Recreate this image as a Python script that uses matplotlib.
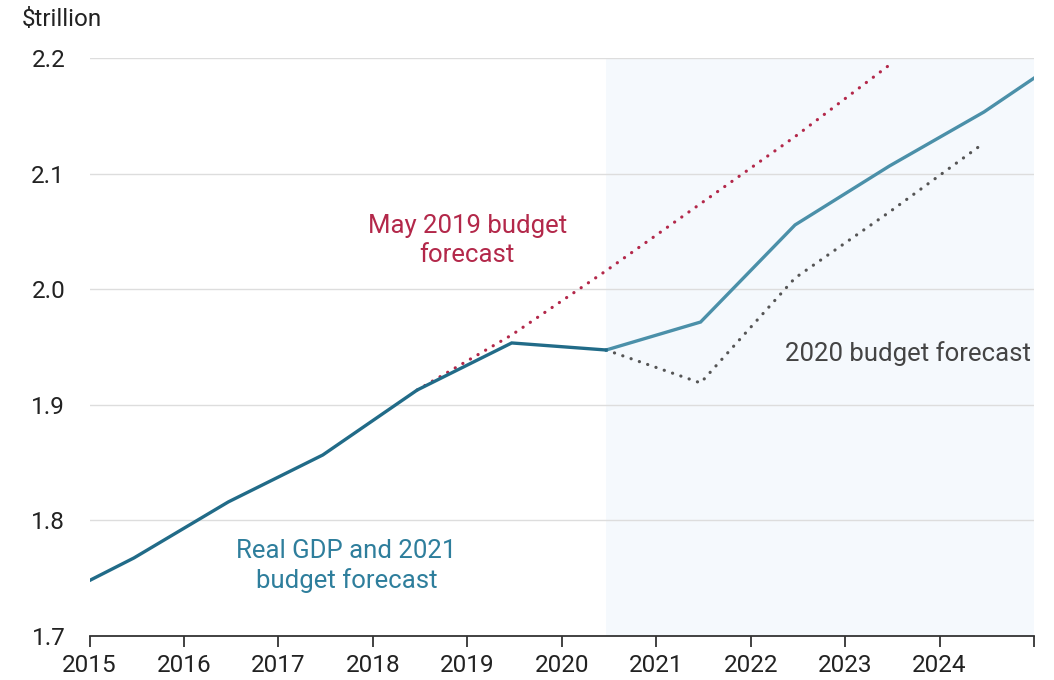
import matplotlib
matplotlib.use("Agg")
import matplotlib.pyplot as plt

plt.rcParams['font.family'] = ['Roboto', 'DejaVu Sans']

# Fiscal-year data (plotted mid-year)
hist_x = [2014.47, 2015.47, 2016.47, 2017.47, 2018.47, 2019.47, 2020.47]
hist_y = [1.726, 1.7675, 1.816, 1.8566, 1.9128, 1.9535, 1.9474]

fc21_x = [2020.47, 2021.47, 2022.47, 2023.47, 2024.47, 2025.47]
fc21_y = [1.9474, 1.9716, 2.0556, 2.1066, 2.1533, 2.2086]

may19_x = [2018.47, 2019.47, 2020.47, 2021.47, 2022.47, 2023.47]
may19_y = [1.9128, 1.9604, 2.016, 2.074, 2.132, 2.194]

fc20_x = [2020.47, 2021.47, 2022.47, 2023.47, 2024.47]
fc20_y = [1.9474, 1.9189, 2.0097, 2.0668, 2.1265]

forecast_start = 2020.47
x_ticks = list(range(2015, 2026))
x_labels = [str(y) for y in range(2015, 2025)] + [""]
y_ticks = [1.7, 1.8, 1.9, 2.0, 2.1, 2.2]
y_labels = ["1.7", "1.8", "1.9", "2.0", "2.1", "2.2"]

fig = plt.figure(figsize=(10.54, 6.80), dpi=100)
ax = fig.add_axes([89.5/1054, 1-636/680, (1034-89.5)/1054, (636-58)/680])

ax.axvspan(forecast_start, 2025, color="#f5f9fd", zorder=0, lw=0)

for yv in y_ticks[1:]:
    ax.axhline(yv, color="#dddddd", lw=1.0, zorder=1)

dot = (0, (0.05, 2.7))
ax.plot(may19_x, may19_y, color="#b3284a", lw=2.3, ls=dot,
        dash_capstyle='round', zorder=3)
ax.plot(fc20_x, fc20_y, color="#555555", lw=2.3, ls=dot,
        dash_capstyle='round', zorder=3)
ax.plot(fc21_x, fc21_y, color="#4b90a9", lw=2.4, zorder=4, solid_joinstyle='miter')
ax.plot(hist_x, hist_y, color="#216b88", lw=2.4, zorder=5, solid_joinstyle='miter')

ax.set_xlim(2015, 2025)
ax.set_ylim(1.7, 2.2)
ax.set_xticks(x_ticks)
ax.set_xticklabels(x_labels)
ax.set_yticks(y_ticks)
ax.set_yticklabels(y_labels)

for s in ["top", "right", "left"]:
    ax.spines[s].set_visible(False)
ax.spines["bottom"].set_color("#333333")
ax.spines["bottom"].set_linewidth(1.3)
ax.tick_params(axis="x", length=8, width=1.3, color="#333333", pad=5,
               labelsize=17.5, labelcolor="#222222")
ax.tick_params(axis="y", length=0, pad=17.5, labelsize=17.5, labelcolor="#222222")

fig.text(22/1054, 1-20/680, "$trillion", fontsize=17.5, color="#222222",
         ha="left", va="center")

ax.text(2019.0, 2.042, "May 2019 budget\nforecast", color="#b3284a", fontsize=18.5,
        ha="center", va="center", linespacing=1.25)
ax.text(2024.97, 1.944, "2020 budget forecast", color="#444444", fontsize=18.5,
        ha="right", va="center")
ax.text(2017.72, 1.7605, "Real GDP and 2021\nbudget forecast", color="#2e7e9c",
        fontsize=18.5, ha="center", va="center", linespacing=1.25)

fig.savefig("out.png", dpi=100)
